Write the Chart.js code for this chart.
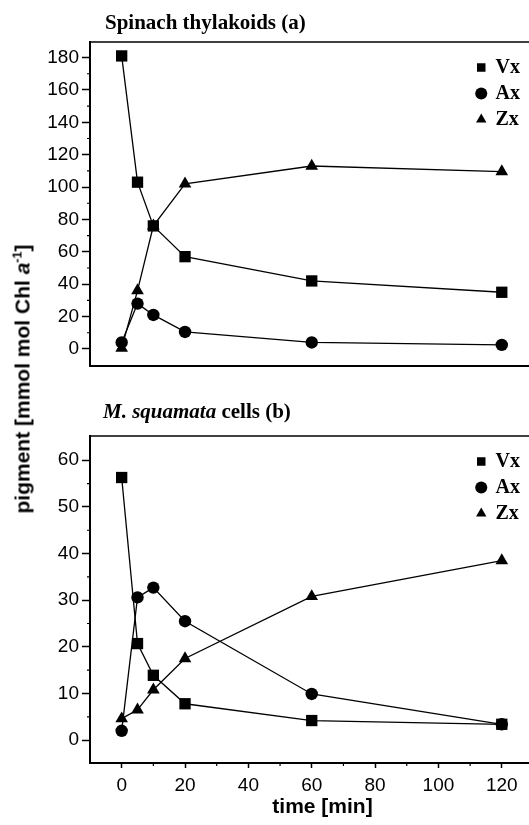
<!DOCTYPE html>
<html>
<head>
<meta charset="utf-8">
<script src="https://cdn.jsdelivr.net/npm/chart.js@4.4.1/dist/chart.umd.min.js"></script>
<style>
  html, body { margin: 0; padding: 0; background: #fff; overflow: hidden; width: 529px; height: 825px; }
  #wrap { position: relative; width: 529px; height: 825px; overflow: hidden; }
  canvas { position: absolute; left: 0; display: block; }
  #topChart { top: 0; }
  #bottomChart { top: 380px; }
  .panel-title { position: absolute; font: bold 21px 'Liberation Serif', 'Times New Roman', serif; line-height: 1; white-space: nowrap; color: #000; }
  #yTitle { position: absolute; left: 22px; top: 379px; transform: translate(-50%, -50%) rotate(-90deg);
            font: bold 21px 'Liberation Sans', Arial, sans-serif; line-height: 1; white-space: nowrap; color: #000; }
  #yTitle sup { font-size: 0.6em; line-height: 0; }
</style>
</head>
<body>
<div id="wrap">
  <canvas id="topChart" width="555" height="380"></canvas>
  <canvas id="bottomChart" width="555" height="445"></canvas>
  <div class="panel-title" style="left:105px; top:12px;">Spinach thylakoids (a)</div>
  <div class="panel-title" style="left:103px; top:401px;"><i>M. squamata</i> cells (b)</div>
  <div id="yTitle">pigment [mmol mol Chl <i>a</i><sup>-1</sup>]</div>
</div>
<script>
// data
const times = [0, 5, 10, 20, 60, 120];
const xTicks = [0, 20, 40, 60, 80, 100, 120];
const xMinor = [10, 30, 50, 70, 90, 110, 130];

// Spinach thylakoids (a)
const spinachVx = [181, 103, 76, 57, 42, 35];
const spinachAx = [4, 28, 21, 10.5, 4, 2.5];
const spinachZx = [0.5, 36, 76, 102, 113, 109.5];
const spinachTicks = [0, 20, 40, 60, 80, 100, 120, 140, 160, 180];
const spinachMinor = [10, 30, 50, 70, 90, 110, 130, 150, 170];

// M. squamata cells (b)
const squamataVx = [56.3, 20.7, 13.9, 7.8, 4.2, 3.4];
const squamataAx = [2.0, 30.6, 32.7, 25.5, 9.9, 3.4];
const squamataZx = [4.6, 6.5, 10.8, 17.5, 30.8, 38.5];
const squamataTicks = [0, 10, 20, 30, 40, 50, 60];
const squamataMinor = [5, 15, 25, 35, 45, 55];

Chart.defaults.font.family = "'Liberation Sans', Arial, sans-serif";
Chart.defaults.color = '#000';

// top frame line + small minor ticks
const axisExtras = {
  id: 'axisExtras',
  afterDraw(chart, args, opts) {
    const { ctx, chartArea: a, scales } = chart;
    ctx.save();
    ctx.strokeStyle = '#000';
    ctx.lineWidth = 1.5;
    ctx.beginPath();
    ctx.moveTo(a.left, a.top);
    ctx.lineTo(a.right, a.top);
    ctx.stroke();
    ctx.lineWidth = 1.2;
    ctx.beginPath();
    opts.yMinor.forEach(v => {
      const y = scales.y.getPixelForValue(v);
      ctx.moveTo(a.left - 3, y);
      ctx.lineTo(a.left, y);
    });
    opts.xMinor.forEach(v => {
      const x = scales.x.getPixelForValue(v);
      ctx.moveTo(x, a.bottom);
      ctx.lineTo(x, a.bottom + 3);
    });
    ctx.stroke();
    ctx.restore();
  }
};

// move the legend into the upper right corner of the plot
const legendCorner = {
  id: 'legendCorner',
  afterLayout(chart, args, opts) {
    const lg = chart.legend;
    const a = chart.chartArea;
    lg.left = opts.left;
    lg.right = lg.left + 80;
    lg.top = a.top + opts.dy;
    lg.bottom = a.bottom;
  }
};

function series(label, values, style, radius) {
  return {
    label: label,
    data: times.map((t, i) => ({ x: t, y: values[i] })),
    pointStyle: style,
    pointRadius: radius,
    borderColor: '#000',
    backgroundColor: '#000',
    pointBackgroundColor: '#000',
    pointBorderWidth: 0,
    borderWidth: 1.3,
    tension: 0,
    clip: false
  };
}

function makeChart(id, vx, ax, zx, yMin, yMax, yTicks, yMinor, withXAxis, pad) {
  return new Chart(document.getElementById(id), {
    type: 'line',
    data: {
      datasets: [
        series('Vx', vx, 'rect', 8),
        series('Ax', ax, 'circle', 6.2),
        series('Zx', zx, 'triangle', 7.3)
      ]
    },
    options: {
      responsive: false,
      animation: false,
      devicePixelRatio: 1,
      layout: { padding: pad, autoPadding: false },
      scales: {
        x: {
          type: 'linear',
          min: -10,
          max: 136.8,
          afterBuildTicks: s => { s.ticks = xTicks.map(v => ({ value: v })); },
          afterFit: s => { s.height = withXAxis ? 62 : 0; },
          grid: { display: withXAxis, drawOnChartArea: false, tickLength: 5, tickColor: '#000', tickWidth: 1.5 },
          border: { display: true, color: '#000', width: 2 },
          ticks: { display: withXAxis, font: { size: 19 }, color: '#000', padding: 6, maxRotation: 0, autoSkip: false },
          title: {
            display: withXAxis,
            text: 'time [min]',
            color: '#000',
            font: { size: 21, weight: 'bold' },
            padding: { top: 0, bottom: 5 }
          }
        },
        y: {
          min: yMin,
          max: yMax,
          afterBuildTicks: s => { s.ticks = yTicks.map(v => ({ value: v })); },
          afterFit: s => { s.width = 90; },
          grid: { drawOnChartArea: false, tickLength: 8, tickColor: '#000', tickWidth: 1.5 },
          border: { color: '#000', width: 2 },
          ticks: { font: { size: 19 }, color: '#000', padding: 3, autoSkip: false }
        }
      },
      plugins: {
        legend: {
          position: 'chartArea',
          align: 'start',
          labels: {
            usePointStyle: true,
            boxWidth: 8.5,
            boxHeight: 8.5,
            padding: 6,
            color: '#000',
            font: { family: "'Liberation Serif', 'Times New Roman', serif", size: 20, weight: 'bold' }
          }
        },
        tooltip: { enabled: false },
        axisExtras: { yMinor: yMinor, xMinor: withXAxis ? xMinor : [] },
        legendCorner: { left: 471, dy: 9.5 }
      }
    },
    plugins: [axisExtras, legendCorner]
  });
}

makeChart('topChart', spinachVx, spinachAx, spinachZx, -10.3, 189.6,
  spinachTicks, spinachMinor, false, { top: 42, bottom: 13, left: 0, right: 0 });

makeChart('bottomChart', squamataVx, squamataAx, squamataZx, -4.9, 65.2,
  squamataTicks, squamataMinor, true, { top: 56, bottom: 0, left: 0, right: 0 });
</script>
</body>
</html>
